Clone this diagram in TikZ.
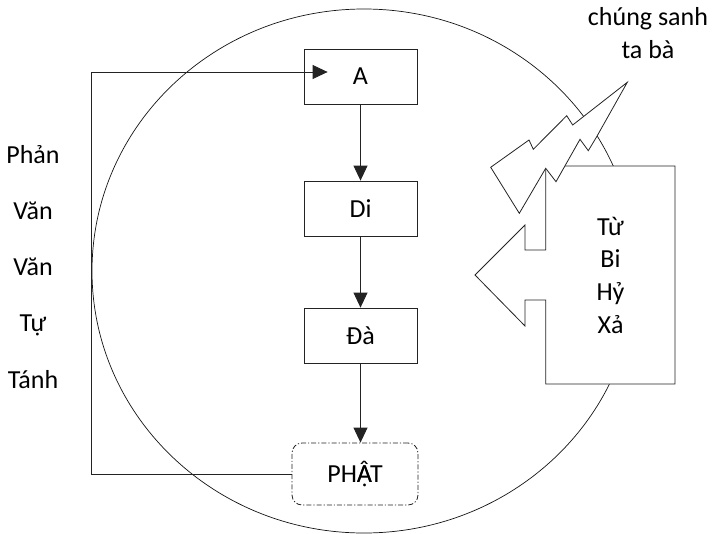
\documentclass[tikz,border=0pt]{standalone}
\usepackage{fontspec}
\setmainfont{Carlito}
\usetikzlibrary{
    arrows.meta,
    calc
}
\definecolor{ink}{RGB}{35,35,35}
\definecolor{rim}{RGB}{20,20,20}
\tikzset{
    line cap=round,
    line join=round,
    bigtext/.style={
        font=\fontsize{26}{33}\selectfont,
        text=black
    },
    stepbox/.style={
        rectangle,
        draw=ink,
        line width=0.8pt,
        fill=white,
        minimum width=113pt,
        minimum height=55pt,
        inner sep=0pt,
        bigtext
    },
    goalbox/.style={
        stepbox,
        rounded corners=10pt,
        dash pattern=on 5pt off 2pt on 1.2pt off 2pt,
        minimum width=126pt,
        minimum height=62pt
    },
    flow/.style={
        -{Triangle[length=15pt,width=14pt]},
        draw=ink,
        line width=0.8pt
    },
    outline/.style={
        draw=ink,
        line width=0.8pt,
        fill=white
    },
    sideword/.style={
        bigtext,
        anchor=base,
        inner sep=0pt
    }
}

\begin{document}
\begin{tikzpicture}[x=1pt, y=-1pt]

\useasboundingbox (0,0) rectangle (712,533);

% the round world
\draw[rim, line width=0.7pt] (364,271) ellipse [x radius=272pt, y radius=262pt];

% the path of practice
\node[stepbox] (A) at (360.5,76.5) {A};
\node[stepbox] (Di) at (360.5,208.5) {Di};
\node[stepbox] (Da) at (360.5,335.5) {Đà};
\node[goalbox] (Phat) at (355,474) {PH\rlap{Â}ẠT};

\draw[flow] (A) -- (Di);
\draw[flow] (Di) -- (Da);
\draw[flow] (Da.south) -- (Da.south |- Phat.north);

\coordinate (turn) at (91,72);
\draw[flow] (Phat.west) -| (turn) -- ([xshift=24pt]A.west |- turn);

\foreach \i/\word in {0/Phản, 1/Văn, 2/Văn, 3/Tự, 4/Tánh} {
    \pgfmathsetmacro{\y}{163 + \i * 56.25}
    \node[sideword] (side\i) at (33,\y) {\word};
}

% the four virtues pointing back
\draw[outline] (545.7,166) -- (675,166) -- (675,384) -- (545.7,384)
    -- (545.7,300) -- (525,300) -- (525,326) -- (475,275)
    -- (525,225) -- (525,250) -- (545.7,250) -- cycle;

\foreach \i/\word in {0/Từ, 1/Bi, 2/Hỷ, 3/Xả} {
    \pgfmathsetmacro{\y}{235 + \i * 32.7}
    \node[sideword] (virtue\i) at (610.5,\y) {\word};
}

% lightning towards the beings
\draw[outline] (490.7,167.3) -- (529,140) -- (533.3,149.3) -- (566.7,115.7)
    -- (572.7,125) -- (627.3,82.3) -- (596.7,136.7) -- (588.3,150.7)
    -- (580,139.3) -- (556,181.7) -- (545.7,168.3) -- (519.3,213.3) -- cycle;

\node[sideword] (beings) at (648,25) {chúng sanh};
\node[sideword] (world) at (648,58) {ta bà};

\end{tikzpicture}
\end{document}
